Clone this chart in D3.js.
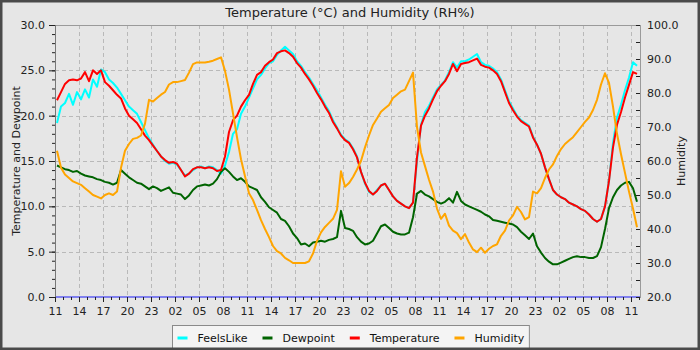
<!DOCTYPE html>
<html>
<head>
<meta charset="utf-8">
<script src="https://cdn.jsdelivr.net/npm/d3@7"></script>
<style>
  body { margin: 0; background: #e6e6e6; }
  svg { display: block; font-family: "DejaVu Sans", sans-serif; }
</style>
</head>
<body>
<svg id="chart" width="700" height="350"></svg>
<script>
// Half-hourly readings, first sample at 11:15 on day one
const firstSample = new Date(2024, 5, 10, 11, 15);
const sampleMinutes = 30;

const feelsLike = [
  19.2, 21.0, 21.4, 22.4, 21.2, 22.6, 21.8, 22.9, 22.0, 24.0,
  23.2, 25.1, 24.8, 24.0, 23.6, 23.1, 22.4, 21.7, 21.0, 20.6,
  20.2, 19.3, 18.4, 17.5, 16.8, 16.1, 15.5, 15.0, 14.7, 14.8,
  14.6, 14.0, 13.4, 13.6, 14.0, 14.3, 14.4, 14.2, 14.4, 14.3,
  14.0, 13.6, 14.5, 16.0, 18.0, 18.5, 20.2, 21.0, 22.0, 23.0,
  24.0, 24.5, 25.2, 25.8, 26.0, 26.7, 27.2, 27.6, 27.2, 26.8,
  26.0, 25.5, 24.8, 24.2, 23.5, 22.8, 22.0, 21.2, 20.5, 19.5,
  18.7, 17.9, 17.4, 17.1, 16.4, 15.5, 13.8, 12.5, 11.6, 11.3,
  11.8, 12.3, 12.5, 11.8, 11.1, 10.6, 10.3, 10.0, 9.8, 10.4,
  15.0, 19.0, 20.4, 21.1, 22.0, 22.9, 23.4, 23.9, 24.8, 25.9,
  25.3, 26.0, 26.0, 26.2, 26.5, 26.8, 25.9, 25.6, 25.5, 25.2,
  24.8, 24.0, 22.8, 21.6, 20.8, 20.0, 19.5, 19.2, 18.9, 17.7,
  16.8, 15.8, 14.3, 13.0, 11.8, 11.3, 11.0, 10.8, 10.4, 10.2,
  10.0, 9.7, 9.5, 9.1, 8.6, 8.3, 8.6, 10.0, 12.8, 17.0,
  19.8, 21.2, 22.8, 24.2, 25.9, 25.5
];

const dewpoint = [
  14.5, 14.3, 14.1, 14.0, 13.8, 13.9, 13.6, 13.4, 13.3, 13.2,
  13.0, 12.9, 12.7, 12.6, 12.4, 12.6, 14.0, 13.6, 13.2, 12.9,
  12.6, 12.5, 12.2, 11.9, 12.2, 12.0, 11.7, 11.9, 12.1, 11.5,
  11.4, 11.3, 10.8, 11.2, 11.8, 12.2, 12.3, 12.4, 12.3, 12.5,
  13.0, 13.8, 14.2, 13.8, 13.3, 12.9, 13.1, 12.7, 12.2, 12.0,
  11.8, 11.0, 10.5, 9.9, 9.6, 9.3, 8.6, 8.4, 7.8, 7.0,
  6.5, 5.8, 5.9, 5.6, 6.0, 6.1, 6.2, 6.1, 6.3, 6.4,
  6.6, 9.5, 7.6, 7.5, 7.3, 6.6, 6.1, 5.8, 5.9, 6.2,
  7.0, 7.8, 8.0, 7.6, 7.2, 7.0, 6.9, 6.9, 7.1, 8.8,
  11.4, 11.7, 11.3, 11.1, 10.8, 10.5, 10.3, 10.5, 10.9, 10.4,
  11.6, 10.6, 10.2, 10.0, 9.8, 9.6, 9.4, 9.1, 8.9, 8.5,
  8.4, 8.3, 8.2, 8.1, 8.0, 7.7, 7.2, 6.8, 6.4, 7.0,
  5.6, 4.9, 4.3, 3.9, 3.6, 3.6, 3.8, 4.0, 4.2, 4.4,
  4.5, 4.4, 4.4, 4.3, 4.3, 4.5, 5.5, 7.5, 9.8, 11.0,
  11.8, 12.3, 12.6, 12.7, 12.0, 10.5
];

const temperature = [
  21.7, 22.6, 23.5, 23.9, 24.0, 23.9, 24.1, 24.8, 23.8, 25.0,
  24.6, 25.0, 23.7, 23.3, 22.8, 22.3, 21.9, 20.8, 20.0, 19.6,
  19.2, 18.5, 17.8, 17.3, 16.7, 16.1, 15.5, 15.1, 14.8, 14.9,
  14.7, 14.0, 13.3, 13.6, 14.1, 14.3, 14.3, 14.2, 14.3, 14.2,
  13.9, 14.0, 15.5, 18.2, 19.5, 20.0, 21.0, 21.7, 22.3, 23.5,
  24.5, 24.8, 25.5, 25.9, 26.2, 26.9, 27.1, 27.2, 26.9, 26.5,
  25.8, 25.3, 24.6, 24.0, 23.3, 22.5, 21.8, 21.0, 20.3, 19.3,
  18.6, 17.8, 17.3, 17.0, 16.3, 15.4, 13.8, 12.6, 11.7, 11.3,
  11.7, 12.3, 12.5, 11.8, 11.1, 10.6, 10.3, 10.0, 9.8, 10.4,
  15.4, 18.9, 20.0, 20.8, 21.8, 22.7, 23.3, 23.8, 24.6, 25.7,
  24.9, 25.7, 25.8, 25.9, 26.1, 26.3, 25.6, 25.4, 25.3, 25.0,
  24.6, 23.8, 22.6, 21.4, 20.6, 19.9, 19.4, 19.1, 18.8, 17.6,
  16.8, 15.8, 14.3, 13.0, 11.8, 11.3, 11.0, 10.8, 10.4, 10.2,
  10.0, 9.7, 9.5, 9.1, 8.6, 8.3, 8.6, 10.0, 12.8, 16.5,
  19.0, 20.4, 22.0, 23.4, 24.8, 24.6
];

const humidity = [
  63.0, 58.0, 56.0, 55.0, 54.0, 53.5, 53.0, 52.0, 51.0, 50.0,
  49.5, 49.0, 50.0, 50.5, 50.0, 51.0, 58.0, 63.0, 65.0, 66.5,
  66.8, 67.5, 71.0, 78.0, 77.5, 78.5, 79.5, 80.3, 82.5, 83.2,
  83.2, 83.5, 83.8, 86.0, 88.5, 89.0, 89.0, 89.0, 89.2, 89.5,
  90.0, 90.5, 86.5, 81.0, 74.0, 67.0, 60.5, 55.5, 50.5, 48.5,
  45.6, 42.6, 40.0, 37.6, 35.0, 33.5, 32.8, 31.5, 30.8, 30.0,
  30.0, 30.0, 30.0, 30.5, 32.8, 36.5, 39.0, 40.6, 41.8, 43.0,
  45.6, 57.0, 52.4, 53.5, 55.3, 57.5, 60.0, 64.0, 67.5, 70.6,
  72.5, 74.5, 75.5, 76.5, 78.5, 79.5, 80.5, 81.0, 83.5, 86.0,
  70.0, 62.5, 58.5, 54.5, 51.0, 46.0, 43.0, 44.5, 41.0, 39.5,
  38.8, 37.0, 38.5, 36.0, 34.0, 33.2, 34.5, 33.0, 34.2, 35.0,
  35.5, 38.0, 39.5, 42.5, 44.0, 46.5, 45.0, 42.8, 43.5, 51.0,
  50.5, 52.0, 55.0, 57.5, 59.0, 61.5, 63.5, 65.0, 66.0, 67.0,
  68.5, 70.0, 71.5, 72.8, 75.0, 78.0, 82.5, 85.8, 83.0, 76.0,
  68.0, 62.0, 56.5, 51.0, 46.0, 40.5
];

const seriesNames = ["FeelsLike", "Dewpoint", "Temperature", "Humidity"];
const seriesColors = ["#00ffff", "#006400", "#ff0000", "#ffa500"];
const leftTicks = [0, 5, 10, 15, 20, 25, 30];
const rightTicks = [20, 30, 40, 50, 60, 70, 80, 90, 100];

const W = 700, H = 350;
const M = { left: 55, right: 640, top: 25, bottom: 297 };
const HOUR = 3600e3;

const svg = d3.select("#chart");

// chart background and outer frame
svg.append("rect").attr("width", W).attr("height", H).attr("fill", "#e6e6e6");

const axisStart = new Date(firstSample.getTime() - 15 * 60e3);   // 11:00
const axisEnd = new Date(axisStart.getTime() + 73.125 * HOUR);
const x = d3.scaleTime().domain([axisStart, axisEnd]).range([M.left, M.right]);
const yL = d3.scaleLinear().domain([0, 30]).range([M.bottom, M.top]);
const yR = d3.scaleLinear().domain([20, 100]).range([M.bottom, M.top]);

const times = temperature.map((_, i) => new Date(firstSample.getTime() + i * sampleMinutes * 60e3));
const majorTimes = d3.range(0, 73, 3).map(h => new Date(axisStart.getTime() + h * HOUR));
const minorTimes = d3.range(0, 74, 1).map(h => new Date(axisStart.getTime() + h * HOUR));

// dashed grid
const grid = svg.append("g").attr("stroke", "#b9b9b9").attr("stroke-dasharray", "4,3").attr("stroke-width", 1);
grid.selectAll(".gv").data(majorTimes.filter((d, i) => i > 0)).join("line")
  .attr("x1", d => Math.round(x(d)) + 0.5).attr("x2", d => Math.round(x(d)) + 0.5)
  .attr("y1", M.top).attr("y2", M.bottom);
grid.selectAll(".gh").data(leftTicks.filter(v => v > 0 && v < 30)).join("line")
  .attr("x1", M.left).attr("x2", M.right)
  .attr("y1", d => Math.round(yL(d)) + 0.5).attr("y2", d => Math.round(yL(d)) + 0.5);

// plot frame
svg.append("rect").attr("x", M.left + 0.5).attr("y", M.top + 0.5)
  .attr("width", M.right - M.left).attr("height", M.bottom - M.top)
  .attr("fill", "none").attr("stroke", "#9a9a9a");

// data lines
svg.append("clipPath").attr("id", "plotclip").append("rect")
  .attr("x", M.left).attr("y", M.top).attr("width", M.right - M.left).attr("height", M.bottom - M.top);

const seriesValues = [feelsLike, dewpoint, temperature, humidity];
const seriesScales = [yL, yL, yL, yR];
const linesG = svg.append("g").attr("clip-path", "url(#plotclip)");
seriesValues.forEach((vals, k) => {
  const yScale = seriesScales[k];
  const line = d3.line().x((d, i) => x(times[i])).y(d => yScale(d));
  linesG.append("path").datum(vals)
    .attr("d", line).attr("fill", "none")
    .attr("stroke", seriesColors[k]).attr("stroke-width", 2)
    .attr("stroke-linejoin", "round");
});

// zero baseline
svg.append("line")
  .attr("x1", M.left).attr("x2", M.right)
  .attr("y1", yL(0)).attr("y2", yL(0))
  .attr("stroke", "#8080ee").attr("stroke-width", 2);

function styleAxis(g) {
  g.select(".domain").remove();
  g.selectAll(".tick line").attr("stroke", "#222");
  g.selectAll(".tick text").attr("fill", "#222").attr("font-size", 11)
    .attr("font-family", "DejaVu Sans, sans-serif");
}

// left axis
svg.append("g").attr("transform", `translate(${M.left},0)`)
  .call(d3.axisLeft(yL).tickValues(d3.range(0, 31, 1)).tickSize(3).tickFormat(""))
  .call(styleAxis);
svg.append("g").attr("transform", `translate(${M.left},0)`)
  .call(d3.axisLeft(yL).tickValues(leftTicks).tickSize(6).tickPadding(4).tickFormat(d3.format(".1f")))
  .call(styleAxis);
svg.append("line").attr("x1", M.left + 0.5).attr("x2", M.left + 0.5)
  .attr("y1", M.top).attr("y2", M.bottom).attr("stroke", "#777");

// right axis
svg.append("g").attr("transform", `translate(${M.right},0)`)
  .call(d3.axisRight(yR).tickValues(d3.range(20, 101, 5)).tickSizeInner(-4).tickSizeOuter(0).tickFormat(""))
  .call(styleAxis);
svg.append("g").attr("transform", `translate(${M.right},0)`)
  .call(d3.axisRight(yR).tickValues(rightTicks).tickSizeInner(0).tickSizeOuter(0).tickPadding(7).tickFormat(d3.format(".1f")))
  .call(styleAxis);

// bottom axis
svg.append("g").attr("transform", `translate(0,${M.bottom})`)
  .call(d3.axisBottom(x).tickValues(minorTimes).tickSize(3).tickFormat(""))
  .call(styleAxis);
svg.append("g").attr("transform", `translate(0,${M.bottom})`)
  .call(d3.axisBottom(x).tickValues(majorTimes).tickSize(5).tickPadding(5).tickFormat(d3.timeFormat("%H")))
  .call(styleAxis);

// titles
svg.append("text").attr("x", 350).attr("y", 17).attr("text-anchor", "middle")
  .attr("font-size", 13).attr("fill", "#222").text("Temperature (°C) and Humidity (RH%)");
svg.append("text").attr("transform", `translate(20,${(M.top + M.bottom) / 2}) rotate(-90)`)
  .attr("text-anchor", "middle").attr("font-size", 11).attr("fill", "#222")
  .text("Temperature and Dewpoint");
svg.append("text").attr("transform", `translate(685,${(M.top + M.bottom) / 2}) rotate(-90)`)
  .attr("text-anchor", "middle").attr("font-size", 11).attr("fill", "#222")
  .text("Humidity");

// legend
const legend = svg.append("g");
const legendBox = legend.append("rect").attr("y", 325.5).attr("height", 24)
  .attr("fill", "#f4f4f4").attr("stroke", "#8a8a8a");
let cx = 0;
const items = legend.append("g");
seriesNames.forEach((name, k) => {
  items.append("line").attr("x1", cx).attr("x2", cx + 10).attr("y1", 338).attr("y2", 338)
    .attr("stroke", seriesColors[k]).attr("stroke-width", 3);
  const t = items.append("text").attr("x", cx + 20).attr("y", 342)
    .attr("font-size", 11).attr("fill", "#111").text(name);
  cx += 20 + t.node().getComputedTextLength() + 15;
});
const itemsWidth = cx - 15;
const boxW = itemsWidth + 10;
const boxX = Math.round((W - boxW) / 2) + 0.5;
legendBox.attr("x", boxX).attr("width", boxW);
items.attr("transform", `translate(${boxX + 5},0)`);

// outer border
svg.append("rect").attr("x", 1.25).attr("y", 1.25).attr("width", W - 2.5).attr("height", H - 2.5)
  .attr("fill", "none").attr("stroke", "#4a4a4a").attr("stroke-width", 2.5);
</script>
</body>
</html>
